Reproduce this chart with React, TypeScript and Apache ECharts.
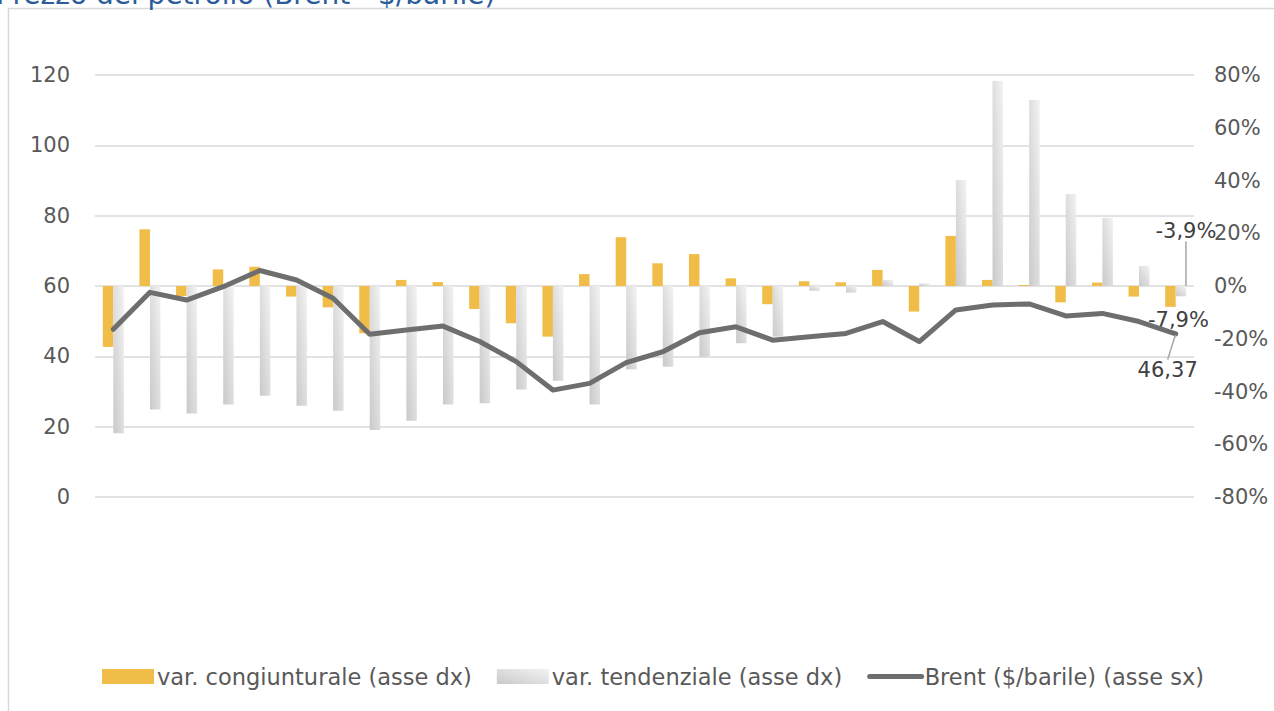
import React, { useEffect, useRef } from "react";
import * as echarts from "echarts";

const categories = [
  "gen-15", "feb-15", "mar-15", "apr-15", "mag-15", "giu-15", "lug-15", "ago-15", "set-15", "ott-15", "nov-15", "dic-15",
  "gen-16", "feb-16", "mar-16", "apr-16", "mag-16", "giu-16", "lug-16", "ago-16", "set-16", "ott-16", "nov-16", "dic-16",
  "gen-17", "feb-17", "mar-17", "apr-17", "mag-17", "giu-17",
];

// Brent ($/barile) - left axis
const brent = [
  47.7, 58.2, 56.0, 59.8, 64.4, 61.7, 56.5, 46.3, 47.5, 48.6, 44.2, 38.5,
  30.4, 32.3, 38.2, 41.3, 46.7, 48.4, 44.6, 45.6, 46.5, 49.9, 44.2, 53.2,
  54.6, 54.9, 51.5, 52.2, 49.9, 46.37,
];

// var. congiunturale (%) - right axis
const congiunturale = [
  -23.1, 21.5, -3.8, 6.3, 7.3, -4.0, -8.1, -17.9, 2.3, 1.5, -8.7, -14.1,
  -19.2, 4.5, 18.5, 8.6, 12.1, 2.9, -6.9, 1.8, 1.4, 6.1, -9.7, 19.0,
  2.3, 0.4, -6.2, 1.3, -4.0, -7.9,
];

// var. tendenziale (%) - right axis
const tendenziale = [
  -55.8, -46.8, -48.3, -44.9, -41.6, -45.4, -47.3, -54.6, -51.1, -44.9, -44.5, -39.2,
  -35.9, -44.9, -31.6, -30.6, -26.8, -21.7, -19.2, -1.8, -2.5, 2.3, 1.0, 40.2,
  77.7, 70.5, 34.9, 25.8, 7.6, -3.9,
];

const seriesNames = [
  "var. congiunturale (asse dx)",
  "var. tendenziale (asse dx)",
  "Brent ($/barile) (asse sx)",
];

const title = "Prezzo del petrolio (Brent - $/barile)";

const FONT = "DejaVu Sans";
const fmtIt = (v: number, d: number) => v.toFixed(d).replace(".", ",");

export default function App() {
  const ref = useRef<HTMLDivElement>(null);

  useEffect(() => {
    if (!ref.current) return;
    const chart = echarts.init(ref.current, null, { renderer: "svg" });
    const last = categories.length - 1;

    const grayGrad = {
      type: "linear",
      x: 1, y: 0, x2: 0, y2: 1,
      colorStops: [
        { offset: 0, color: "#f3f3f3" },
        { offset: 1, color: "#c9c9c9" },
      ],
    };

    const labelStyle = {
      show: true,
      fontFamily: FONT,
      fontSize: 21,
      color: "#404040",
    };

    chart.setOption({
      animation: false,
      textStyle: { fontFamily: FONT },
      graphic: [
        {
          type: "rect",
          shape: { x: 8.5, y: 8.5, width: 1400, height: 900 },
          style: { fill: "none", stroke: "#d9d9d9", lineWidth: 1.5 },
          silent: true,
        },
        {
          type: "text",
          x: -4,
          y: -6,
          style: {
            text: title,
            font: `28px "${FONT}"`,
            fill: "#2c5c9a",
            verticalAlign: "middle",
          },
          silent: true,
        },
      ],
      legend: {
        bottom: 18,
        left: 97,
        itemWidth: 52,
        itemHeight: 15,
        itemGap: 25,
        textStyle: { fontFamily: FONT, fontSize: 22.5, color: "#595959", padding: [0, 0, 0, -2] },
        data: [
          { name: seriesNames[0], icon: "rect" },
          { name: seriesNames[1], icon: "rect" },
          {
            name: seriesNames[2],
            itemStyle: { opacity: 0 },
            lineStyle: { width: 5, cap: "round", color: "#6e6e6e" },
          },
        ],
      },
      grid: { left: 95, right: 80, top: 75, bottom: 214, containLabel: false },
      xAxis: {
        type: "category",
        data: categories,
        axisLine: { show: false },
        axisTick: { show: false },
        axisLabel: { show: false },
        splitLine: { show: false },
      },
      yAxis: [
        {
          type: "value",
          min: 0,
          max: 120,
          interval: 20,
          axisLine: { show: false },
          axisTick: { show: false },
          axisLabel: { color: "#595959", fontSize: 21, fontFamily: FONT, margin: 25 },
          splitLine: { lineStyle: { color: "#d9d9d9", width: 1.5 } },
        },
        {
          type: "value",
          min: -80,
          max: 80,
          interval: 20,
          position: "right",
          axisLine: { show: false },
          axisTick: { show: false },
          axisLabel: {
            color: "#595959",
            fontSize: 21,
            fontFamily: FONT,
            margin: 20,
            formatter: (v: number) => `${v}%`,
          },
          splitLine: { show: false },
        },
      ],
      series: [
        {
          name: seriesNames[0],
          type: "bar",
          yAxisIndex: 1,
          barWidth: 10.5,
          barGap: "0%",
          itemStyle: { color: "#f0bd48" },
          data: congiunturale.map((v, i) =>
            i === last
              ? { value: v, label: { ...labelStyle, formatter: `${fmtIt(v, 1)}%` } }
              : v
          ),
          labelLayout: (p: any) =>
            p.dataIndex === last
              ? {
                  x: p.rect.x + p.rect.width / 2 + 8,
                  y: p.rect.y + p.rect.height + 13,
                  align: "center",
                  verticalAlign: "middle",
                }
              : {},
          z: 2,
        },
        {
          name: seriesNames[1],
          type: "bar",
          yAxisIndex: 1,
          barWidth: 10.5,
          barGap: "0%",
          itemStyle: { color: grayGrad },
          data: tendenziale.map((v, i) =>
            i === last
              ? { value: v, label: { ...labelStyle, formatter: `${fmtIt(v, 1)}%` } }
              : v
          ),
          labelLayout: (p: any) =>
            p.dataIndex === last
              ? {
                  x: p.rect.x + p.rect.width / 2 + 5,
                  y: p.rect.y - 55,
                  align: "center",
                  verticalAlign: "middle",
                }
              : {},
          labelLine: { show: true, lineStyle: { color: "#a6a6a6", width: 1.5 } },
          z: 2,
        },
        {
          name: seriesNames[2],
          type: "line",
          yAxisIndex: 0,
          symbol: "none",
          lineStyle: { color: "#6e6e6e", width: 5, cap: "round", join: "round" },
          itemStyle: { color: "#6e6e6e" },
          data: brent.map((v, i) =>
            i === last
              ? {
                  value: v,
                  symbol: "circle",
                  symbolSize: 2,
                  label: { ...labelStyle, formatter: fmtIt(v, 2) },
                }
              : v
          ),
          labelLayout: (p: any) =>
            p.dataIndex === last
              ? {
                  x: p.rect.x + p.rect.width / 2 - 8,
                  y: p.rect.y + p.rect.height / 2 + 36,
                  align: "center",
                  verticalAlign: "middle",
                }
              : {},
          labelLine: { show: true, lineStyle: { color: "#a6a6a6", width: 1.5 } },
          z: 5,
        },
      ],
    });

    return () => chart.dispose();
  }, []);

  return (
    <div
      ref={ref}
      style={{ position: "fixed", left: 0, top: 0, width: 1274, height: 711, background: "#ffffff" }}
    />
  );
}
